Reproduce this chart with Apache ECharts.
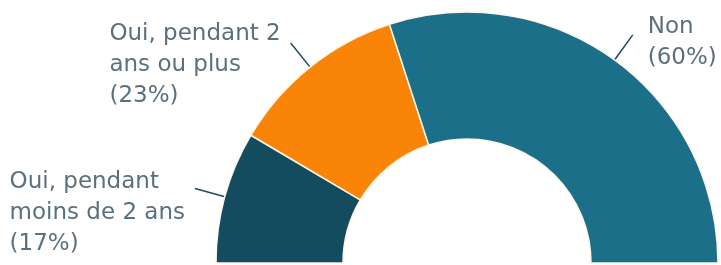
<!DOCTYPE html>
<html>
	<head>
		<meta charset="utf-8" />
		<title></title>
		<script type="text/javascript" src="https://cdn.jsdelivr.net/npm/echarts@6/dist/echarts.min.js"></script>
		<style>
			html, body { margin: 0; padding: 0; width: 721px; height: 265px; background: #fff; }
		</style>
	</head>
	<body>
		<div id="container" style="width: 721px;height: 265px"></div>
		<script>
			var labels = ['Oui, pendant\nmoins de 2 ans', 'Oui, pendant 2\nans ou plus', 'Non'];
			var values = [17, 23, 60];
			var colors = ['#134b5f', '#f98407', '#1b6f89'];
			// extra top padding pushes the labels down from the line end
			var pads = [[48, 0, 0, 0], [44, 0, 0, 0], [16, 0, 0, 0]];
			var gaps = [10, 10, 15];

			var myChart = echarts.init(document.getElementById('container'));

			var data = [];
			for (var i = 0; i < labels.length; i++) {
				data.push({
					name: labels[i],
					value: values[i],
					itemStyle: { color: colors[i] },
					label: { padding: pads[i], distanceToLabelLine: gaps[i] }
				});
			}

			var option = {
				animation: false,
				series: [{
					type: 'pie',
					center: [467, 263],
					radius: [124, 251],
					startAngle: 180,
					endAngle: 0,
					clockwise: true,
					avoidLabelOverlap: false,
					itemStyle: { borderColor: '#fdf6e8', borderWidth: 1.5 },
					label: {
						show: true,
						position: 'outside',
						distanceToLabelLine: 10,
						formatter: function (p) {
							var lines = (p.name + '\n(' + p.value + '%)').split('\n');
							return lines.map(function (l) { return '{a|' + l + '}'; }).join('\n');
						},
						rich: {
							a: {
								align: 'left',
								fontFamily: 'DejaVu Sans',
								fontSize: 23,
								lineHeight: 31,
								color: '#5a7080'
							}
						}
					},
					labelLine: {
						show: true,
						length: 31,
						length2: 0,
						lineStyle: { color: '#1e4a5c', width: 1.5 }
					},
					data: data
				}]
			};
			myChart.setOption(option);
		</script>
	</body>
</html>
